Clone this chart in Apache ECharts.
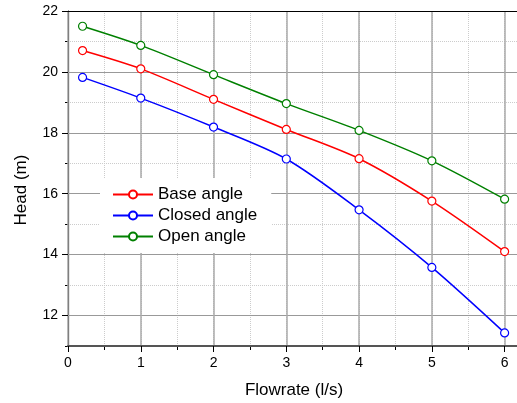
<!DOCTYPE html>
<html>
<head>
<meta charset="utf-8">
<script src="https://cdn.jsdelivr.net/npm/echarts@6/dist/echarts.min.js"></script>
<style>
  html, body { margin: 0; padding: 0; background: #fff; }
  #main { width: 517px; height: 403px; }
</style>
</head>
<body>
<div id="main"></div>
<script>
'use strict';

// flowrate (l/s)
var flow = [0.2, 1, 2, 3, 4, 5, 6];
// head (m)
var baseAngle   = [20.70, 20.10, 19.10, 18.11, 17.15, 15.76, 14.10];
var closedAngle = [19.82, 19.14, 18.19, 17.14, 15.47, 13.58, 11.43];
var openAngle   = [21.50, 20.87, 19.91, 18.96, 18.08, 17.08, 15.82];
var seriesNames = ['Base angle', 'Closed angle', 'Open angle'];
var seriesColors = ['#ff0000', '#0000ff', '#008000'];

var FONT = 'Liberation Sans, Arial, sans-serif';
var XMAX = 6.5;   // the plot runs past the right edge of the picture

function pairs(ys) {
    return ys.map(function (y, i) { return [flow[i], y]; });
}

function makeSeries(name, ys, color) {
    return {
        name: name,
        type: 'line',
        xAxisIndex: 0,
        yAxisIndex: 0,
        data: pairs(ys),
        smooth: 0.3,
        symbol: 'circle',
        symbolSize: 8,
        itemStyle: { color: '#fff', borderColor: color, borderWidth: 1.2 },
        lineStyle: { color: color, width: 1.5 },
        z: 3
    };
}

var myChart = echarts.init(document.getElementById('main'));

var option = {
    animation: false,
    backgroundColor: '#fff',
    textStyle: { fontFamily: FONT },
    grid: [
        // main plot area: 11..22 on y
        { left: 68, top: 11, right: -24, bottom: 57, outerBoundsMode: 'none' },
        // solid horizontal lines at even values (12..22) + top frame line
        { left: 68, top: 11, right: -24, bottom: 87.5, outerBoundsMode: 'none' },
        // dotted vertical lines every 0.5
        { left: 68, top: 11, right: -24, bottom: 57, outerBoundsMode: 'none' }
    ],
    legend: {
        orient: 'vertical',
        left: 100,
        top: 178,
        padding: [8, 14, 8, 12],
        itemGap: 4,
        itemWidth: 40,
        itemHeight: 10,
        backgroundColor: '#fff',
        data: seriesNames,
        textStyle: { fontSize: 17, color: '#000', fontFamily: FONT }
    },
    xAxis: [
        {
            gridIndex: 0,
            type: 'value',
            min: 0,
            max: XMAX,
            interval: 1,
            z: 1,
            name: 'Flowrate (l/s)',
            nameLocation: 'middle',
            nameGap: 36,
            nameTextStyle: { fontSize: 17, color: '#000', padding: [0, 21, 0, 0] },
            axisLine: { show: true, lineStyle: { color: '#555', width: 2 } },
            axisTick: { show: true, inside: false, length: 6, lineStyle: { color: '#000' } },
            axisLabel: {
                fontSize: 14, color: '#000', margin: 10,
                formatter: function (v) { return (Math.abs(v - Math.round(v)) < 1e-6) ? String(Math.round(v)) : ''; }
            },
            splitLine: { show: true, showMaxLine: false, lineStyle: { color: '#aaa', width: 1.5 } }
        },
        {
            gridIndex: 1,
            type: 'value',
            position: 'top',
            min: 0,
            max: XMAX,
            z: 1,
            axisLine: { show: true, lineStyle: { color: '#000', width: 1 } },
            axisTick: { show: false },
            axisLabel: { show: false },
            splitLine: { show: false }
        },
        {
            gridIndex: 2,
            type: 'value',
            min: 0,
            max: XMAX,
            interval: 0.5,
            z: 0,
            axisLine: { show: false },
            axisTick: { show: true, inside: false, length: 4, lineStyle: { color: '#000' } },
            axisLabel: { show: false },
            splitLine: { show: true, showMaxLine: false, lineStyle: { color: '#ccc', type: 'dotted', width: 1 } }
        }
    ],
    yAxis: [
        {
            gridIndex: 0,
            type: 'value',
            min: 11,
            max: 22,
            interval: 1,
            name: 'Head (m)',
            nameLocation: 'middle',
            nameGap: 38,
            nameTextStyle: { fontSize: 17, color: '#000', padding: [0, 23, 0, 0] },
            axisLine: { show: true, lineStyle: { color: '#000', width: 1.2 } },
            axisTick: { show: true, inside: false, length: 3, lineStyle: { color: '#000' } },
            axisLabel: { show: false },
            splitLine: { show: true, lineStyle: { color: '#ccc', type: 'dotted', width: 1 } }
        },
        {
            gridIndex: 1,
            type: 'value',
            min: 12,
            max: 22,
            interval: 2,
            z: 1,
            axisLine: { show: false },
            axisTick: { show: true, inside: false, length: 6, lineStyle: { color: '#000' } },
            axisLabel: { fontSize: 14, color: '#000', margin: 10 },
            splitLine: { show: true, lineStyle: { color: '#999', width: 1.2 } }
        },
        {
            gridIndex: 2,
            type: 'value',
            min: 11,
            max: 22,
            show: false
        }
    ],
    series: [
        makeSeries(seriesNames[0], baseAngle, seriesColors[0]),
        makeSeries(seriesNames[1], closedAngle, seriesColors[1]),
        makeSeries(seriesNames[2], openAngle, seriesColors[2])
    ]
};

myChart.setOption(option);
</script>
</body>
</html>
